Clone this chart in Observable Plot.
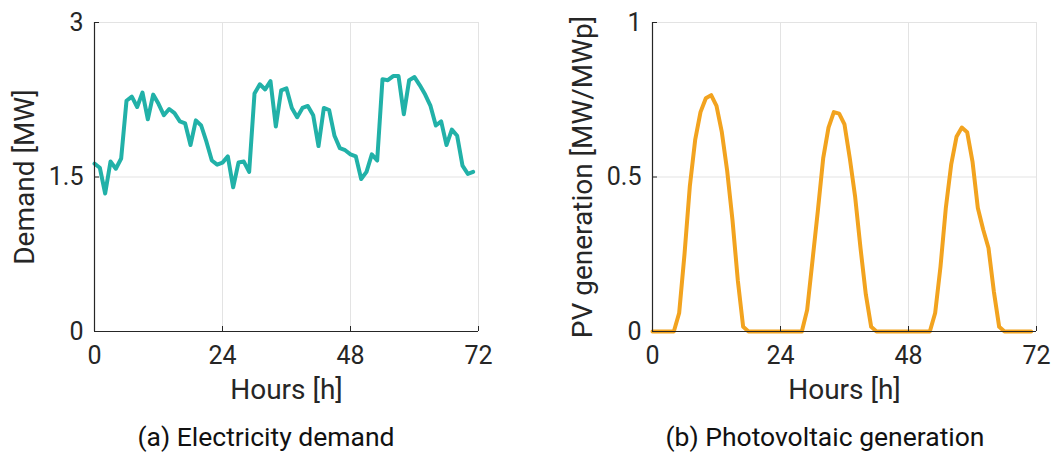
<!DOCTYPE html>
<html>
<head>
<meta charset="utf-8">
<script src="https://cdn.jsdelivr.net/npm/d3@7"></script>
<script src="https://cdn.jsdelivr.net/npm/@observablehq/plot@0.6"></script>
<style>
  html, body { margin: 0; padding: 0; background: #fff; }
  #wrap { position: relative; width: 1054px; height: 452px; font-family: Roboto, sans-serif; color: #262626; }
  .panel { position: absolute; top: 0; }
  .cap { position: absolute; top: 437px; transform: translateY(-50%); text-align: center; font-size: 26.5px; line-height: 1; color: #111; }
</style>
</head>
<body>
<div id="wrap"></div>
<script>
// ---- data ----
const hours = d3.range(0, 72);
const demand = [
  1.63, 1.59, 1.34, 1.65, 1.58, 1.68, 2.24, 2.28, 2.18, 2.32, 2.06, 2.30,
  2.21, 2.10, 2.16, 2.12, 2.04, 2.02, 1.81, 2.05, 2.00, 1.84, 1.66, 1.62,
  1.64, 1.70, 1.40, 1.64, 1.65, 1.55, 2.31, 2.40, 2.35, 2.43, 1.99, 2.34,
  2.36, 2.17, 2.08, 2.17, 2.19, 2.10, 1.80, 2.17, 2.15, 1.90, 1.78, 1.76,
  1.72, 1.70, 1.48, 1.55, 1.72, 1.66, 2.45, 2.44, 2.48, 2.48, 2.11, 2.44,
  2.47, 2.39, 2.30, 2.19, 2.00, 2.04, 1.81, 1.96, 1.90, 1.61, 1.53, 1.55
];
const pvGeneration = [
  0, 0, 0, 0, 0, 0.06, 0.25, 0.47, 0.62, 0.71, 0.755, 0.765,
  0.73, 0.645, 0.52, 0.36, 0.165, 0.015, 0, 0, 0, 0, 0, 0,
  0, 0, 0, 0, 0, 0.07, 0.23, 0.39, 0.56, 0.66, 0.71, 0.705,
  0.67, 0.56, 0.435, 0.27, 0.12, 0.015, 0, 0, 0, 0, 0, 0,
  0, 0, 0, 0, 0, 0.06, 0.21, 0.40, 0.54, 0.63, 0.66, 0.645,
  0.55, 0.40, 0.33, 0.27, 0.13, 0.015, 0, 0, 0, 0, 0, 0
];
const xTicks = [0, 24, 48, 72];
const demandTicks = [0, 1.5, 3];
const pvTicks = [0, 0.5, 1];
const xLabel = "Hours [h]";
const demandLabel = "Demand [MW]";
const pvLabel = "PV generation [MW/MWp]";
const captions = ["(a) Electricity demand", "(b) Photovoltaic generation"];

const demandData = hours.map((h, i) => ({h, v: demand[i]}));
const pvData = hours.map((h, i) => ({h, v: pvGeneration[i]}));

const W = 527, H = 410, frameBottom = 331;
const gridColor = "#e3e3e3", axisColor = "#262626";
const fmt = d => String(d);

function panel(data, yDomain, yTicks, yLabel, color, marginLeft, marginRight) {
  return Plot.plot({
    width: W, height: H,
    marginLeft, marginRight, marginTop: 22, marginBottom: H - frameBottom,
    style: {fontFamily: "Roboto, sans-serif", fontSize: "25px", color: axisColor, background: "white", overflow: "visible"},
    x: {domain: [0, 72]},
    y: {domain: yDomain},
    marks: [
      Plot.gridX(xTicks, {stroke: gridColor, strokeOpacity: 1}),
      Plot.gridY(yTicks, {stroke: gridColor, strokeOpacity: 1}),
      Plot.line(data, {x: "h", y: "v", stroke: color, strokeWidth: 4, strokeLinejoin: "round"}),
      Plot.ruleX([0], {stroke: axisColor, strokeWidth: 1.2}),
      Plot.ruleY([yDomain[0]], {stroke: axisColor, strokeWidth: 1.2}),
      Plot.axisX(xTicks, {tickSize: -5, tickPadding: 20, tickFormat: fmt, label: null, stroke: axisColor, fill: axisColor}),
      Plot.axisY(yTicks, {tickSize: -5, tickPadding: 16, tickFormat: fmt, label: null, stroke: axisColor, fill: axisColor}),
      Plot.text([xLabel], {frameAnchor: "bottom", dy: 67, text: d => d, fontSize: 28, fill: axisColor}),
      Plot.text([yLabel], {frameAnchor: "left", dx: -69, rotate: -90, textAnchor: "middle", text: d => d, fontSize: 28, fill: axisColor})
    ]
  });
}

const wrap = document.getElementById("wrap");
const p1 = panel(demandData, [0, 3], demandTicks, demandLabel, "#21b1a8", 94, W - 478);
const p2 = panel(pvData, [0, 1], pvTicks, pvLabel, "#f2a31f", 652 - W, 1054 - 1036);
const d1 = document.createElement("div"); d1.className = "panel"; d1.style.left = "0px"; d1.appendChild(p1);
const d2 = document.createElement("div"); d2.className = "panel"; d2.style.left = W + "px"; d2.appendChild(p2);
wrap.appendChild(d1); wrap.appendChild(d2);

const c1 = document.createElement("div"); c1.className = "cap";
c1.style.left = (266 - 200) + "px"; c1.style.width = "400px"; c1.textContent = captions[0];
const c2 = document.createElement("div"); c2.className = "cap";
c2.style.left = (825 - 210) + "px"; c2.style.width = "420px"; c2.textContent = captions[1];
wrap.appendChild(c1); wrap.appendChild(c2);
</script>
</body>
</html>
